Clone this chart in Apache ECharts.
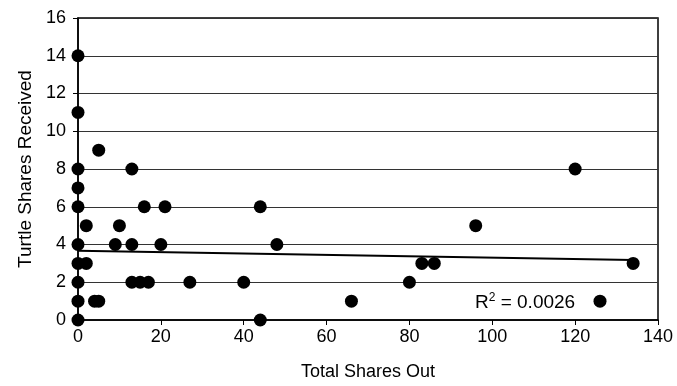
<!DOCTYPE html>
<html>
<head>
<meta charset="utf-8">
<script src="https://cdn.jsdelivr.net/npm/echarts@6/dist/echarts.min.js"></script>
<style>html,body{margin:0;padding:0;background:#fff;}#c{width:677px;height:386px;}</style>
</head>
<body>
<div id="c"></div>
<script>
// Total Shares Out (x) and Turtle Shares Received (y)
const sharesOut = [0,0,0,0,0,0,0,0,0,0, 2,2,4,5,5,9,10,13,13,13,15,16,17,20,21,27,40,44,44,48,66,80,83,86,96,120,126,134];
const sharesReceived = [0,1,2,3,4,6,7,8,11,14, 3,5,1,1,9,4,5,8,4,2,2,6,2,4,6,2,2,6,0,4,1,2,3,3,5,8,1,3];
// linear trend line endpoints as drawn in the reference
const trendX = [0, 134];
const trendY = [3.67, 3.18];
const xTicks = [0,20,40,60,80,100,120,140];
const yTicks = [0,2,4,6,8,10,12,14,16];
const rSquaredText = '0.0026';

const pts = sharesOut.map((x,i)=>[x, sharesReceived[i]]);
const trend = trendX.map((x,i)=>[x, trendY[i]]);

const chart = echarts.init(document.getElementById('c'));
const font = 'Liberation Sans, Arial, Helvetica, sans-serif';
chart.setOption({
  animation:false,
  backgroundColor:'#fff',
  grid:{left:78,right:19,top:18,bottom:64,show:true,borderColor:'#000',borderWidth:1.5},
  xAxis:{
    type:'value', min:xTicks[0], max:xTicks[xTicks.length-1], interval:20,
    name:'Total Shares Out', nameLocation:'middle', nameGap:43,
    nameTextStyle:{fontFamily:font,fontSize:18,color:'#000',verticalAlign:'top'},
    axisLine:{lineStyle:{color:'#000',width:1.5}},
    axisTick:{show:true,length:5,lineStyle:{color:'#000'}},
    axisLabel:{fontFamily:font,fontSize:18,color:'#000',margin:8},
    splitLine:{show:false}
  },
  yAxis:{
    type:'value', min:yTicks[0], max:yTicks[yTicks.length-1], interval:2,
    name:'Turtle Shares Received', nameLocation:'middle', nameGap:42,
    nameTextStyle:{fontFamily:font,fontSize:19,color:'#000'},
    axisLine:{show:true,lineStyle:{color:'#000',width:1.5}},
    axisTick:{show:true,length:5,lineStyle:{color:'#000'}},
    axisLabel:{fontFamily:font,fontSize:18,color:'#000',margin:12},
    splitLine:{show:true,lineStyle:{color:'#333',width:1}}
  },
  series:[
    {type:'scatter',data:pts,symbol:'circle',symbolSize:13,itemStyle:{color:'#000',opacity:1},z:3},
    {type:'line',data:trend,showSymbol:false,symbol:'none',lineStyle:{color:'#000',width:2},z:2,silent:true}
  ],
  graphic:[{
    type:'text', left:475, top:292,
    style:{
      text:'{r|R}{s|2}{r| = '+rSquaredText+'}',
      rich:{
        r:{fontFamily:font,fontSize:19,fill:'#000',verticalAlign:'bottom',lineHeight:20},
        s:{fontFamily:font,fontSize:12,fill:'#000',verticalAlign:'top',lineHeight:20,padding:[0,0,8,0]}
      }
    }
  }]
});
</script>
</body>
</html>
